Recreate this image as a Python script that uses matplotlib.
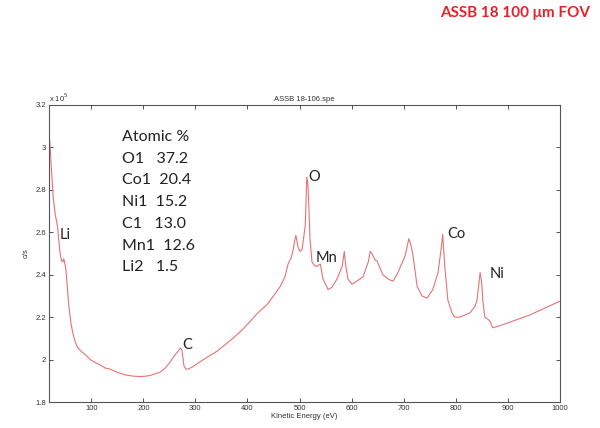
import matplotlib
matplotlib.use("Agg")
import matplotlib.pyplot as plt

energy = [18, 21, 23, 27, 31, 35, 37, 40, 43, 45, 47, 49, 51, 54, 57, 61, 65, 69, 73, 80,
          90, 98, 108, 117, 127, 136, 150, 165, 180, 194, 205, 213, 225, 232, 242, 252, 260,
          267, 271, 274, 276, 278, 282, 286, 290, 294, 300, 309, 325, 342, 357, 372, 390,
          405, 420, 438, 453, 463, 472, 478, 484, 488, 491, 493, 497, 501, 505, 511, 514,
          516, 518, 520, 524, 530, 534, 540, 545, 555, 562, 572, 582, 586, 589, 593, 601,
          610, 622, 632, 636, 639, 645, 649, 655, 660, 670, 674, 680, 689, 703, 710, 714,
          718, 726, 735, 745, 756, 766, 772, 775, 779, 785, 793, 798, 808, 827, 837, 841,
          845, 847, 850, 852, 856, 862, 866, 871, 891, 942, 1000]
counts = [3.10, 3.00, 2.91, 2.76, 2.68, 2.63, 2.58, 2.50, 2.465, 2.46, 2.475, 2.455, 2.43,
          2.34, 2.25, 2.17, 2.12, 2.085, 2.06, 2.04, 2.02, 2.00, 1.985, 1.975, 1.96, 1.955,
          1.94, 1.928, 1.922, 1.92, 1.922, 1.925, 1.935, 1.94, 1.96, 1.99, 2.02, 2.04, 2.055,
          2.045, 2.01, 1.97, 1.955, 1.955, 1.96, 1.965, 1.975, 1.99, 2.015, 2.04, 2.07, 2.10,
          2.14, 2.18, 2.22, 2.26, 2.31, 2.345, 2.39, 2.45, 2.48, 2.52, 2.565, 2.585, 2.53,
          2.51, 2.52, 2.63, 2.86, 2.83, 2.72, 2.57, 2.46, 2.44, 2.44, 2.45, 2.38, 2.33, 2.34,
          2.38, 2.44, 2.51, 2.44, 2.38, 2.355, 2.37, 2.39, 2.46, 2.51, 2.50, 2.47, 2.465,
          2.43, 2.40, 2.38, 2.375, 2.37, 2.41, 2.49, 2.57, 2.54, 2.49, 2.345, 2.30, 2.29,
          2.33, 2.41, 2.52, 2.59, 2.44, 2.28, 2.22, 2.20, 2.20, 2.22, 2.25, 2.28, 2.37, 2.41,
          2.36, 2.28, 2.20, 2.19, 2.18, 2.15, 2.165, 2.21, 2.275]

x_ticks = [100, 200, 300, 400, 500, 600, 700, 800, 900, 1000]
y_ticks = [1.8, 2.0, 2.2, 2.4, 2.6, 2.8, 3.0, 3.2]
y_tick_labels = ["1.8", "2", "2.2", "2.4", "2.6", "2.8", "3", "3.2"]

peak_labels = ["Li", "C", "O", "Mn", "Co", "Ni"]
peak_label_x = [40, 275, 517, 530, 783, 865]
peak_label_y = [2.585, 2.07, 2.86, 2.48, 2.59, 2.405]

atomic_lines = ["Atomic %", "O1   37.2", "Co1  20.4", "Ni1  15.2", "C1   13.0", "Mn1  12.6", "Li2   1.5"]

fig = plt.figure(figsize=(6.0, 4.28), dpi=100)
ax = fig.add_axes([0.081, 0.0607, 0.852, 0.694])
ax.plot(energy, counts, color="#ea7076", lw=0.8)
ax.set_xlim(18, 1000)
ax.set_ylim(1.8, 3.2)
ax.set_xticks(x_ticks)
ax.set_xticklabels([str(v) for v in x_ticks])
ax.set_yticks(y_ticks)
ax.set_yticklabels(y_tick_labels)
ax.tick_params(direction="in", top=True, right=True, labelsize=5.5, length=3,
               width=0.6, colors="#333333", pad=2)
for lab in ax.get_xticklabels() + ax.get_yticklabels():
    lab.set_fontfamily("Liberation Sans")
for sp in ax.spines.values():
    sp.set_color("#555555")
    sp.set_linewidth(0.8)

ax.set_title("ASSB 18-106.spe", fontsize=5.5, family="Liberation Sans", color="#333333", pad=3)
ax.set_xlabel("Kinetic Energy (eV)", fontsize=5.5, family="Liberation Sans", color="#333333", labelpad=1)
ax.set_ylabel("c/s", fontsize=5.5, family="Liberation Sans", color="#333333", labelpad=4)
ax.text(0.0, 1.005, r"x 10$^5$", transform=ax.transAxes, fontsize=5.5,
        family="Liberation Sans", color="#333333", ha="left", va="bottom")

for lab, lx, ly in zip(peak_labels, peak_label_x, peak_label_y):
    ax.text(lx, ly, lab, fontsize=10.5, family="Lato", color="#222222", ha="left", va="center")

for i, line in enumerate(atomic_lines):
    fig.text(122 / 600, 1 - (137 + 21.7 * i) / 428, line, fontsize=11.5, family="Lato",
             color="#222222", ha="left", va="center")

fig.text(590 / 600, 1 - 13 / 428, "ASSB 18 100 μm FOV", fontsize=11, family="Lato",
         fontweight="bold", color="#e8202a", ha="right", va="center")

fig.savefig("out.png", dpi=100, facecolor="white")
